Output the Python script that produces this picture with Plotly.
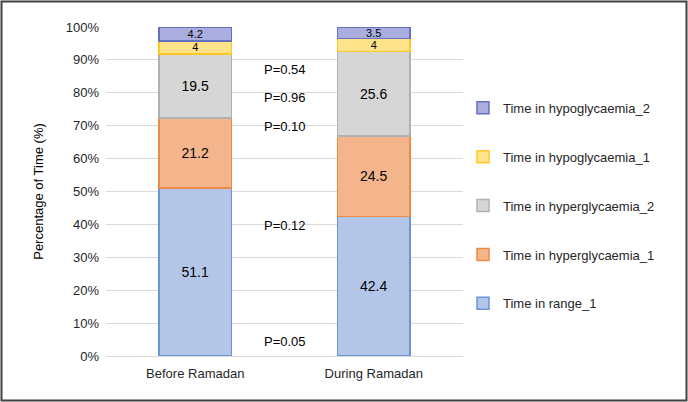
import plotly.graph_objects as go

categories = ["Before Ramadan", "During Ramadan"]
series_names = ["Time in range_1", "Time in hyperglycaemia_1", "Time in hyperglycaemia_2",
                "Time in hypoglycaemia_1", "Time in hypoglycaemia_2"]
time_in_range_1 = [51.1, 42.4]
time_in_hyper_1 = [21.2, 24.5]
time_in_hyper_2 = [19.5, 25.6]
time_in_hypo_1 = [4, 4]
time_in_hypo_2 = [4.2, 3.5]
p_values = ["P=0.05", "P=0.12", "P=0.10", "P=0.96", "P=0.54"]
p_positions = [4.3, 39.8, 69.9, 78.7, 87.2]
y_ticks = [0, 10, 20, 30, 40, 50, 60, 70, 80, 90, 100]
y_tick_labels = [f"{t}%" for t in y_ticks]

values = [time_in_range_1, time_in_hyper_1, time_in_hyper_2, time_in_hypo_1, time_in_hypo_2]
fills = ["#b4c6e7", "#f5b58c", "#d6d6d6", "#ffe38a", "#a9aedf"]
lines = ["#6a95d8", "#ed8a45", "#b0b0b0", "#ffc825", "#6670c0"]
label_sizes = [14, 14, 14, 11, 11]

W, H = 688, 402
ml, mr, mt, mb = 106, 225, 27, 46
FONT = "Liberation Sans, Arial"

fig = go.Figure()
n = len(series_names)
for i, (name, vals) in enumerate(zip(series_names, values)):
    fig.add_trace(go.Bar(
        x=categories, y=vals, name=name,
        marker=dict(color=fills[i], line=dict(color=lines[i], width=1.5)),
        text=[f"{v:g}" for v in vals], textposition="inside", insidetextanchor="middle",
        textangle=0, constraintext="none",
        textfont=dict(family=FONT, size=label_sizes[i], color="#000000"),
        legendgroup=f"g{i}", legendrank=n - i, width=0.405, hoverinfo="skip",
    ))

for txt, yv in zip(p_values, p_positions):
    fig.add_annotation(x=0.5, y=yv, xref="x", yref="y", text=txt, showarrow=False,
                       font=dict(family=FONT, size=13, color="#000000"))

pw = W - ml - mr
ph = H - mt - mb
fig.add_shape(type="rect", xref="paper", yref="paper",
              x0=(1.5 - ml) / pw, x1=(W - 1.5 - ml) / pw,
              y0=-(mb - 1.5) / ph, y1=1 + (mt - 1.5) / ph,
              line=dict(color="#404040", width=2), fillcolor="rgba(0,0,0,0)", layer="above")

fig.update_layout(
    width=W, height=H, barmode="stack", bargap=0.595,
    margin=dict(l=ml, r=mr, t=mt, b=mb, autoexpand=False),
    paper_bgcolor="#ffffff", plot_bgcolor="#ffffff",
    font=dict(family=FONT, size=13, color="#262626"),
    showlegend=True,
    legend=dict(x=1.0, xanchor="left", y=0.80, yanchor="top",
                traceorder="grouped", tracegroupgap=29,
                font=dict(family=FONT, size=13, color="#262626"),
                itemwidth=30, bgcolor="rgba(0,0,0,0)"),
    xaxis=dict(showline=False, ticks="", automargin=False, ticklabelstandoff=8,
               tickfont=dict(size=13, color="#262626")),
    yaxis=dict(range=[0, 100], tickmode="array", tickvals=y_ticks, ticktext=y_tick_labels,
               showgrid=True, automargin=False, ticklabelstandoff=6,
               gridcolor="#d9d9d9", gridwidth=1, zeroline=True, zerolinecolor="#d9d9d9",
               zerolinewidth=1, showline=False, ticks="", ticklen=0,
               tickfont=dict(size=13, color="#262626"),
               title=dict(text="Percentage of Time (%)", standoff=19,
                          font=dict(size=13, color="#000000"))),
)

fig.write_html("out.html", config={"displayModeBar": False},
               post_script="document.body.style.margin='0';document.body.style.padding='0';")
